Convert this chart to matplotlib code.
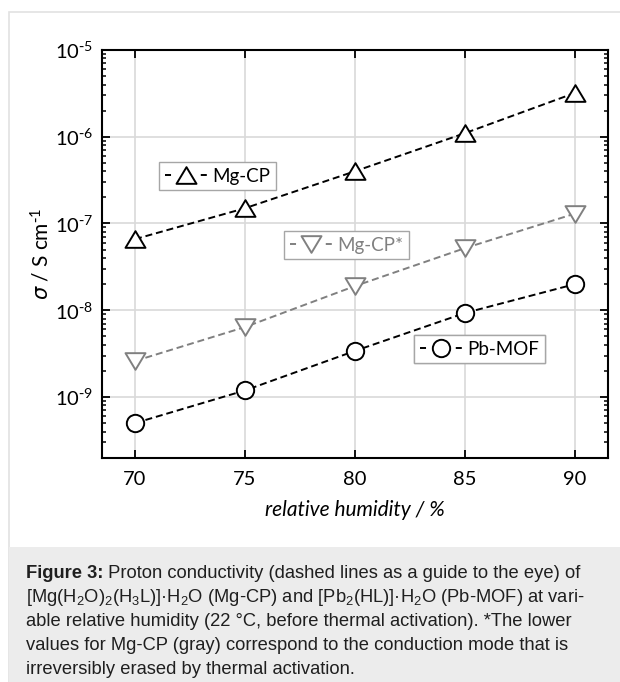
import matplotlib
matplotlib.use('Agg')
import matplotlib.pyplot as plt
import numpy as np
from matplotlib.lines import Line2D
from matplotlib.patches import Rectangle
from matplotlib.path import Path
from matplotlib.ticker import LogLocator, NullFormatter, NullLocator

# data
humidity = [70, 75, 80, 85, 90]
mgcp = [6.6e-8, 1.5e-7, 4.0e-7, 1.1e-6, 3.2e-6]
mgcp_star = [2.6e-9, 6.4e-9, 1.9e-8, 5.2e-8, 1.3e-7]
pbmof = [5.0e-10, 1.19e-9, 3.4e-9, 9.3e-9, 2.0e-8]

series_labels = ['Mg-CP', 'Mg-CP*', 'Pb-MOF']
x_ticks = [70, 75, 80, 85, 90]
y_decades = [-9, -8, -7, -6, -5]

caption_bold = 'Figure 3:'
caption_lines = [
    ' Proton conductivity (dashed lines as a guide to the eye) of',
    r'[Mg(H$\mathregular{_2}$O)$\mathregular{_2}$(H$\mathregular{_3}$L)]·H$\mathregular{_2}$O (Mg-CP) and '
    r'[Pb$\mathregular{_2}$(HL)]·H$\mathregular{_2}$O (Pb-MOF) at vari-',
    'able relative humidity (22 °C, before thermal activation). *The lower',
    'values for Mg-CP (gray) correspond to the conduction mode that is',
    'irreversibly erased by thermal activation.',
]

plt.rcParams['font.family'] = ['Lato', 'DejaVu Sans']
plt.rcParams['mathtext.fontset'] = 'dejavusans'

W, H = 620, 682
fig = plt.figure(figsize=(W / 100, H / 100), dpi=100)


def fx(x):
    return x / W


def fy(y):
    return 1 - y / H


# page frame and caption background
fig.patches.append(Rectangle((fx(9), -0.1), 1.2, fy(12) + 0.1, transform=fig.transFigure,
                             fill=False, edgecolor='#e2e2e2', lw=1.2, zorder=0))
fig.patches.append(Rectangle((fx(9), 0), 1.2, fy(547), transform=fig.transFigure,
                             facecolor='#ececec', edgecolor='none', zorder=0))

ax = fig.add_axes([fx(102), fy(458), fx(608) - fx(102), fy(50) - fy(458)])

# wide triangles, closed paths
tri_up = Path([(-1.2, -1), (1.2, -1), (0, 1), (-1.2, -1)], closed=True)
tri_dn = Path([(-1.2, 1), (1.2, 1), (0, -1), (-1.2, 1)], closed=True)
gray = '#808080'
ms_tri = 14.4
ms_circ = 12.5
lw = 1.4
mew = 1.4

ax.plot(humidity, mgcp, color='k', lw=lw, ls='--', dashes=(3.6, 2.0), marker=tri_up,
        ms=ms_tri, mfc='white', mec='k', mew=mew, zorder=3)
ax.plot(humidity, mgcp_star, color=gray, lw=lw, ls='--', dashes=(3.6, 2.0), marker=tri_dn,
        ms=ms_tri, mfc='white', mec=gray, mew=mew, zorder=3)
ax.plot(humidity, pbmof, color='k', lw=lw, ls='--', dashes=(3.6, 2.0), marker='o',
        ms=ms_circ, mfc='white', mec='k', mew=mew, zorder=3)

ax.set_yscale('log')
ax.set_xlim(68.5, 91.5)
ax.set_ylim(1.98e-10, 1e-5)
ax.set_xticks(x_ticks)
ax.set_xticklabels([str(v) for v in x_ticks])
ax.xaxis.set_minor_locator(NullLocator())
ax.set_yticks([10.0 ** d for d in y_decades])
ax.set_yticklabels([r'$\mathregular{10^{\text{-}%d}}$' % -d for d in y_decades])
ax.yaxis.set_minor_locator(LogLocator(base=10, subs=np.arange(2, 10), numticks=20))
ax.yaxis.set_minor_formatter(NullFormatter())

ax.tick_params(which='both', direction='in', top=True, right=True, labelsize=14.5)
ax.tick_params(axis='x', which='major', length=6, width=1.3, pad=9.5)
ax.tick_params(axis='y', which='major', length=6, width=1.3, pad=6.5)
ax.tick_params(axis='y', which='minor', length=3, width=1.1)
for sp in ax.spines.values():
    sp.set_linewidth(1.5)

ax.grid(True, which='major', color='#d9d9d9', lw=1.2)
ax.set_axisbelow(True)

ax.set_xlabel('relative humidity / %', fontsize=15, style='italic')
ax.xaxis.set_label_coords(0.5, -0.103)
ax.set_ylabel(r'$\sigma$ / S cm$\mathregular{^{\text{-}1}}$', fontsize=15, va='center')
ax.yaxis.set_label_coords(-0.12, 0.5)

# separate boxed legends, Origin style
legend_specs = [
    (series_labels[0], 'k', tri_up, ms_tri, (159, 162)),
    (series_labels[1], gray, tri_dn, ms_tri, (284, 231)),
    (series_labels[2], 'k', 'o', ms_circ, (414, 335)),
]
for label, col, mk, ms, (lx, ly) in legend_specs:
    h = Line2D([], [], color=col, lw=lw, dashes=(3.1, 15.3), marker=mk, ms=ms,
               mfc='white', mec=col, mew=mew)
    leg = ax.legend([h], [label], loc='upper left', bbox_to_anchor=(fx(lx), fy(ly)),
                    bbox_transform=fig.transFigure, borderaxespad=0, fancybox=False,
                    edgecolor='#a6a6a6', framealpha=1, handlelength=2.25,
                    handletextpad=0.3, borderpad=0.3, numpoints=1, fontsize=13.5)
    leg.get_frame().set_linewidth(1.0)
    for t in leg.get_texts():
        t.set_color(col)
    ax.add_artist(leg)

# caption
cap_kw = dict(family='Liberation Sans', fontsize=13.2, color='#1f1f1f', va='baseline', ha='left')
baselines = [578, 602, 626, 650, 674]
tb = fig.text(fx(26), fy(baselines[0]), caption_bold, fontweight='bold', **cap_kw)
renderer = fig.canvas.get_renderer()
bb = tb.get_window_extent(renderer=renderer)
fig.text(bb.x1 / W, fy(baselines[0]), caption_lines[0], **cap_kw)
for line, yb in zip(caption_lines[1:], baselines[1:]):
    fig.text(fx(26), fy(yb), line, **cap_kw)

fig.savefig('out.png', dpi=100)
